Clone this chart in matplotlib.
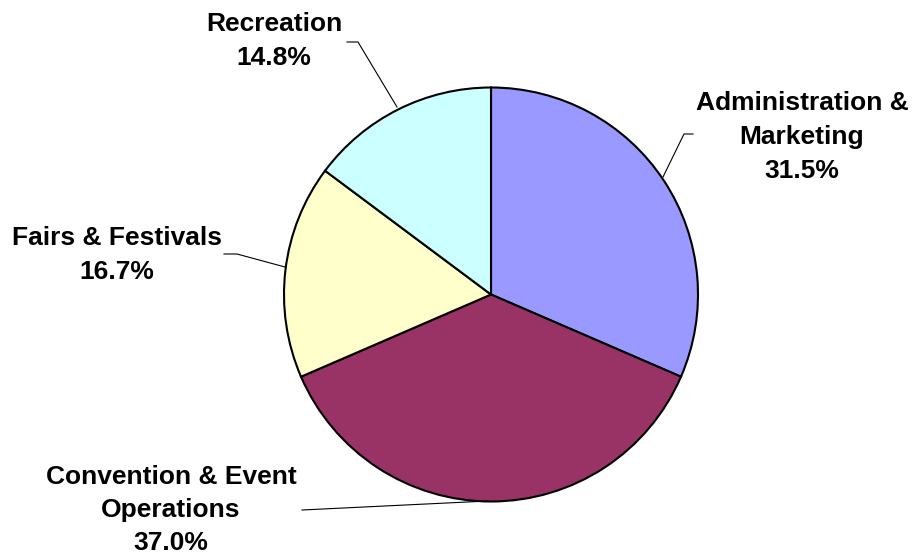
import matplotlib.pyplot as plt

labels = ['Administration &\nMarketing', 'Convention & Event\nOperations',
          'Fairs & Festivals', 'Recreation']
shares = [31.5, 37.0, 16.7, 14.8]
colors = ['#9999FF', '#993366', '#FFFFCC', '#CCFFFF']

plt.rcParams['font.family'] = ['Liberation Sans', 'DejaVu Sans']

fig = plt.figure(figsize=(9.13, 5.56), dpi=100)
ax = fig.add_axes([0, 0, 1, 1])

cx, cy, r = 491, 294.5, 207
# y axis is flipped below, so start at -90 and go counterclockwise in data
ax.pie(shares, colors=colors, startangle=-90, counterclock=True,
       center=(cx, cy), radius=r, frame=True,
       wedgeprops=dict(edgecolor='black', linewidth=1.5))
ax.set_xlim(0, 913)
ax.set_ylim(556, 0)
ax.set_aspect('equal')
ax.axis('off')

label_pos = [(802, 137), (171, 510), (117, 255), (274, 41)]
leaders = [
    [(693, 134), (684, 134), (663, 177)],
    [(302, 510), (488, 501)],
    [(224, 254), (237, 254), (285, 267)],
    [(347, 42), (358, 42), (397, 107)],
]

for lab, s, (x, y) in zip(labels, shares, label_pos):
    ax.text(x, y, f'{lab}\n{s:.1f}%', ha='center', va='center',
            fontsize=19, fontweight='bold', linespacing=1.5)

for pts in leaders:
    xs = [p[0] for p in pts]
    ys = [p[1] for p in pts]
    ax.plot(xs, ys, color='black', linewidth=0.8)

fig.savefig('out.png', dpi=100)
